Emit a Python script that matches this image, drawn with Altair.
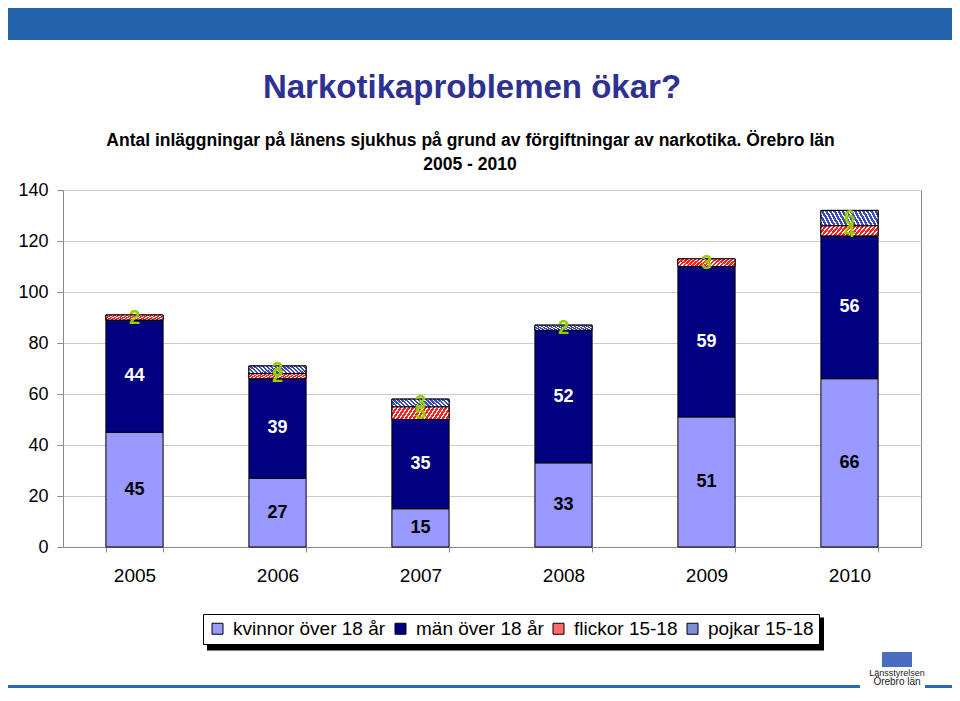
import altair as alt
import pandas as pd

# ---- data ----
years = ["2005", "2006", "2007", "2008", "2009", "2010"]
kvinnor = [45, 27, 15, 33, 51, 66]
man = [44, 39, 35, 52, 59, 56]
flickor = [2, 2, 5, 0, 3, 4]
pojkar = [0, 3, 3, 2, 0, 6]
series_names = ["kvinnor över 18 år", "män över 18 år", "flickor 15-18", "pojkar 15-18"]
series_colors = ["#9999ff", "#000080", "#ff6a6a", "#7f8ed8"]
y_ticks = [0, 20, 40, 60, 80, 100, 120, 140]

title_text = "Narkotikaproblemen ökar?"
subtitle_1 = "Antal inläggningar på länens sjukhus på grund av förgiftningar av narkotika. Örebro län"
subtitle_2 = "2005 - 2010"

rows = []
for i, yr in enumerate(years):
    for j, vals in enumerate([kvinnor, man, flickor, pojkar]):
        rows.append({"year": yr, "series": series_names[j], "ord": j, "value": vals[i]})
df = pd.DataFrame(rows)

FONT = "Liberation Sans"


def stripes(c1, c2, n, frac, k, forward=True):
    stops = []
    for i in range(n):
        a, b, c = i / n, (i + frac) / n, (i + 1) / n
        stops += [alt.GradientStop(color=c1, offset=a), alt.GradientStop(color=c1, offset=b),
                  alt.GradientStop(color=c2, offset=b), alt.GradientStop(color=c2, offset=c)]
    s = (1 + k) / (1 + k * k)
    if forward:
        return alt.LinearGradient(gradient="linear", stops=stops, x1=0, y1=0, x2=s, y2=s * k)
    return alt.LinearGradient(gradient="linear", stops=stops, x1=0, y1=1, x2=s, y2=1 - s * k)


x_enc = alt.X("year:N", sort=years, title=None,
              scale=alt.Scale(paddingInner=0.6, paddingOuter=0.3),
              axis=alt.Axis(labelAngle=0, labelFontSize=19, labelFont=FONT, labelColor="black",
                            labelPadding=14, tickBand="extent", tickSize=5, tickColor="#888",
                            domainColor="#888", grid=False))
y_axis = alt.Axis(values=y_ticks, labelFontSize=18, labelFont=FONT, labelColor="black",
                  grid=True, gridColor="#cccccc", domain=False, tickColor="#888",
                  tickSize=6, labelPadding=9)
y_scale = alt.Scale(domain=[0, 140], nice=False)

base = (alt.Chart(df)
        .transform_filter("datum.value > 0")
        .transform_stack(stack="value", groupby=["year"],
                         sort=[alt.SortField("ord", order="ascending")], as_=["y0", "y1"])
        .transform_calculate(mid="(datum.y0 + datum.y1) / 2"))

bars = base.mark_bar(stroke="black", strokeWidth=1).encode(
    x=x_enc,
    y=alt.Y("y0:Q", title=None, scale=y_scale, axis=y_axis),
    y2="y1:Q",
    color=alt.Color("series:N", scale=alt.Scale(domain=series_names, range=series_colors),
                    legend=alt.Legend(title=None, orient="none", legendX=140, legendY=424,
                                      direction="horizontal", columns=4, symbolType="square",
                                      symbolSize=121, symbolStrokeColor="black",
                                      symbolStrokeWidth=1, labelFontSize=19, labelFont=FONT,
                                      labelColor="black", labelOffset=6, columnPadding=5,
                                      padding=5, strokeColor="black", fillColor="white",
                                      labelLimit=400)),
)

flick_fill = stripes("#ff2020", "#ffffff", 16, 0.62, 0.15, forward=True)
pojk_fill = stripes("#3b4cb8", "#ffffff", 16, 0.62, 0.15, forward=False)

flick_bars = base.transform_filter("datum.ord == 2").mark_bar(
    fill=flick_fill, stroke="black", strokeWidth=1).encode(
    x=x_enc, y=alt.Y("y0:Q", title=None, scale=y_scale, axis=y_axis), y2="y1:Q")
pojk_bars = base.transform_filter("datum.ord == 3").mark_bar(
    fill=pojk_fill, stroke="black", strokeWidth=1).encode(
    x=x_enc, y=alt.Y("y0:Q", title=None, scale=y_scale, axis=y_axis), y2="y1:Q")

txt_k = base.transform_filter("datum.ord == 0").mark_text(
    fontSize=18, fontWeight="bold", font=FONT, color="black", baseline="middle").encode(
    x=x_enc, y=alt.Y("mid:Q", title=None, scale=y_scale, axis=y_axis), text="value:Q")
txt_m = base.transform_filter("datum.ord == 1").mark_text(
    fontSize=18, fontWeight="bold", font=FONT, color="white", baseline="middle").encode(
    x=x_enc, y=alt.Y("mid:Q", title=None, scale=y_scale, axis=y_axis), text="value:Q")
txt_s = base.transform_filter("datum.ord >= 2").mark_text(
    fontSize=20, fontWeight="bold", font=FONT, color="#99cc00", baseline="middle", dy=0).encode(
    x=x_enc, y=alt.Y("mid:Q", title=None, scale=y_scale, axis=y_axis), text="value:Q")

one = alt.Data(values=[{"a": 1}])

banner = alt.Chart(one).mark_rect(color="#2262ab").encode(
    x=alt.value(-55), x2=alt.value(889), y=alt.value(-182), y2=alt.value(-150))
bottom_line1 = alt.Chart(one).mark_rect(color="#2a6bb5").encode(
    x=alt.value(-55), x2=alt.value(797), y=alt.value(495), y2=alt.value(498))
bottom_line2 = alt.Chart(one).mark_rect(color="#2a6bb5").encode(
    x=alt.value(862), x2=alt.value(889), y=alt.value(495), y2=alt.value(498))
shadow = alt.Chart(one).mark_rect(color="black").encode(
    x=alt.value(144), x2=alt.value(761), y=alt.value(427.5), y2=alt.value(460.5))

title = alt.Chart(one).mark_text(text=title_text, fontSize=33, fontWeight="bold", font=FONT,
                                 color="#2e3192", align="center", baseline="middle").encode(
    x=alt.value(409), y=alt.value(-102))
sub1 = alt.Chart(one).mark_text(text=subtitle_1, fontSize=17.5, fontWeight="bold", font=FONT,
                                color="black", align="center", baseline="middle").encode(
    x=alt.value(407.5), y=alt.value(-49.5))
sub2 = alt.Chart(one).mark_text(text=subtitle_2, fontSize=17.5, fontWeight="bold", font=FONT,
                                color="black", align="center", baseline="middle").encode(
    x=alt.value(407), y=alt.value(-25.5))
crest = alt.Chart(one).mark_rect(color="#4a6cc0").encode(
    x=alt.value(819), x2=alt.value(849), y=alt.value(462), y2=alt.value(477))
logo1 = alt.Chart(one).mark_text(text="Länsstyrelsen", fontSize=9, font=FONT, color="#222",
                                 align="center", baseline="middle").encode(
    x=alt.value(834), y=alt.value(483))
logo2 = alt.Chart(one).mark_text(text="Örebro län", fontSize=10, font=FONT, color="#222",
                                 align="center", baseline="middle").encode(
    x=alt.value(834), y=alt.value(492))

chart = alt.layer(
    banner, bottom_line1, bottom_line2, shadow, title, sub1, sub2, crest, logo1, logo2,
    bars, flick_bars, pojk_bars, txt_k, txt_m, txt_s
).properties(
    width=858, height=357,
    padding={"left": 55, "top": 182, "right": 31, "bottom": 143},
    autosize=alt.AutoSizeParams(type="none"),
).configure(font=FONT).configure_view(stroke="#888", strokeWidth=1)

chart.save("out.html", embed_options={"renderer": "svg", "actions": False})
